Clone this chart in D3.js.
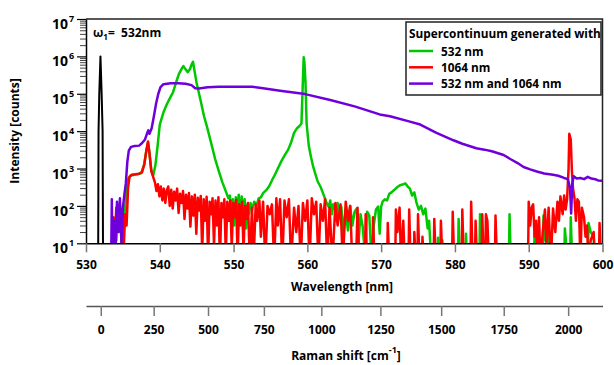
<!DOCTYPE html>
<html>
<head>
<meta charset="utf-8">
<script src="https://cdn.jsdelivr.net/npm/d3@7"></script>
<style>
  html, body { margin: 0; padding: 0; background: #fff; }
  svg { display: block; font-family: "Open Sans", sans-serif; font-weight: bold; }
</style>
</head>
<body>
<div id="chart"></div>
<script>
// pump line at 532 nm [nm, counts]
const pump = [[531.64,1],[531.7,1e4],[531.8,1e5],[531.96,1e6],[532.12,1e5],[532.25,1e4],[532.32,1]];

// supercontinuum pumped with 532 nm [nm, counts]
const sc532 = [[533.7,2],[533.9,45],[534.1,12],[534.3,70],[534.5,20],[534.7,55],[534.9,4],[535.1,35],[535.3,90],[535.5,250],[535.7,520],[536.0,640],[536.5,680],[537.0,700],[537.5,760],[537.9,1300],[538.2,3200],[538.4,5000],[538.6,2600],[538.85,900],[539.1,650],[539.4,1200],[539.7,4000],[540.0,15000],[540.5,32000],[541.0,55000],[541.5,85000],[541.8,110000],[542.2,200000],[542.6,340000],[543.0,480000],[543.2,550000],[543.5,450000],[543.8,380000],[544.1,460000],[544.3,600000],[544.5,720000],[544.7,420000],[545.0,190000],[545.5,70000],[546.0,25000],[546.4,13000],[547.0,4500],[547.5,1800],[548.0,850],[548.5,420],[549.0,230],[549.3,160],[549.5,190],[549.7,60],[549.9,150],[550.1,30],[550.3,170],[550.5,90],[550.7,200],[550.9,40],[551.1,180],[551.3,70],[551.5,150],[551.7,25],[551.9,110],[552.1,60],[552.3,120],[552.5,80],[552.8,130],[553.1,100],[553.4,160],[553.7,170],[554.0,220],[554.4,260],[554.8,330],[555.2,480],[555.6,680],[556.0,1000],[556.5,1600],[557.0,2400],[557.4,3200],[557.8,5000],[558.2,9000],[558.6,12000],[558.9,13500],[559.2,16000],[559.35,120000],[559.5,950000],[559.6,700000],[559.75,200000],[559.9,16000],[560.2,4000],[560.5,2000],[560.8,1100],[561.1,700],[561.4,450],[561.8,320],[562.2,200],[562.6,120],[562.9,95],[563.1,140],[563.3,60],[563.5,110],[563.7,105],[563.9,40],[564.1,120],[564.3,70],[564.6,95],[564.9,20],[565.2,80],[565.5,22],[565.8,100],[566.1,30],[566.4,70],[566.7,85],[566.9,8],[567.2,60],[567.5,28],[567.8,5],[568.1,70],[568.4,55],[568.7,3],[569.0,30],[569.3,80],[569.6,96],[569.8,18],[570.0,95],[570.2,130],[570.5,150],[570.8,140],[571.1,210],[571.4,230],[571.8,270],[572.2,320],[572.6,360],[573.0,380],[573.3,400],[573.6,330],[573.9,290],[574.2,190],[574.5,230],[574.8,120],[575.1,80],[575.4,100],[575.7,60],[576.0,85],[576.3,25],[576.5,40],[576.8,3],[577.6,2],[577.7,14],[577.9,2],[578.2,2],[578.3,12],[578.5,2],[580.4,2],[580.5,45],[580.7,2],[581.4,2],[581.5,18],[581.7,2],[583.3,2],[583.4,60],[583.6,2],[587.3,2],[587.4,60],[587.6,2],[590.7,2],[590.8,30],[591.0,2],[591.9,2],[592.0,55],[592.2,12],[592.6,20],[592.9,3],[594.8,2],[594.9,25],[595.1,8],[595.6,2],[595.7,50],[595.9,3],[598.0,2],[598.1,35],[598.4,20],[598.8,15],[599.0,2]];

// supercontinuum pumped with 1064 nm [nm, counts]
const sc1064 = [[533.5,1],[533.7,50],[533.9,10],[534.1,90],[534.3,25],[534.5,100],[534.7,30],[534.9,80],[535.1,6],[535.3,60],[535.5,30],[535.7,300],[535.9,600],[536.2,680],[536.7,700],[537.2,730],[537.6,800],[537.9,1300],[538.15,2800],[538.4,5300],[538.6,2600],[538.85,850],[539.1,600],[539.35,420],[539.55,250],[539.75,380],[539.95,180],[540.15,330],[540.35,140],[540.55,290],[540.75,120],[540.95,260],[541.15,330],[541.35,100],[541.55,270],[541.75,85],[541.95,240],[542.15,140],[542.35,290],[542.55,65],[542.75,210],[542.95,120],[543.15,250],[543.35,45],[543.55,200],[543.75,85],[543.95,220],[544.15,28],[544.35,180],[544.55,55],[544.75,200],[544.95,18],[545.15,165],[545.35,75],[545.55,185],[545.75,6],[545.95,150],[546.15,40],[546.35,175],[546.55,4],[546.75,130],[546.95,60],[547.15,160],[547.35,9],[547.55,140],[547.75,30],[547.95,170],[548.15,3],[548.35,120],[548.55,50],[548.75,150],[548.95,5],[549.15,130],[549.35,40],[549.55,140],[549.75,8],[549.95,120],[550.15,50],[550.35,145],[550.55,4],[550.75,110],[550.95,30],[551.15,130],[551.35,6],[551.55,100],[551.75,45],[551.95,120],[552.2,3],[552.5,90],[552.7,3],[553.0,110],[553.2,40],[553.5,140],[553.7,15],[554.0,130],[554.3,3],[554.6,100],[554.9,60],[555.2,110],[555.5,3],[555.8,160],[556.0,30],[556.3,150],[556.6,3],[556.9,140],[557.2,50],[557.5,150],[557.8,3],[558.2,90],[558.5,20],[558.8,100],[559.1,3],[559.4,120],[559.7,40],[560.0,140],[560.3,3],[560.6,160],[560.9,60],[561.2,130],[561.5,3],[561.8,110],[562.1,40],[562.4,150],[562.7,3],[563.0,90],[563.4,3],[563.8,120],[564.1,30],[564.5,110],[564.8,3],[565.2,130],[565.5,40],[565.8,100],[566.1,3],[566.6,3],[566.8,90],[567.0,3],[567.8,2],[567.9,60],[568.1,3],[568.8,2],[568.9,50],[569.1,3],[570.8,2],[570.9,35],[571.1,3],[571.9,2],[572.0,80],[572.2,20],[572.5,90],[572.7,3],[573.0,40],[573.2,3],[573.7,2],[573.8,80],[574.0,3],[574.4,2],[574.5,20],[574.7,3],[574.9,2],[575.0,60],[575.2,3],[575.5,2],[575.6,15],[575.8,3],[577.1,2],[577.2,45],[577.4,3],[578.0,2],[578.1,40],[578.3,3],[579.6,2],[579.7,70],[579.9,3],[580.9,2],[581.0,80],[581.2,3],[582.1,2],[582.2,130],[582.4,3],[582.7,2],[582.8,40],[583.0,3],[583.6,2],[583.7,60],[583.9,3],[584.1,2],[584.2,60],[584.4,40],[584.6,3],[585.4,2],[585.5,55],[585.7,3],[589.9,2],[590.0,130],[590.2,30],[590.4,90],[590.6,110],[590.8,15],[591.0,40],[591.2,3],[591.4,50],[591.6,3],[591.9,20],[592.2,80],[592.4,8],[592.7,90],[593.0,3],[593.3,85],[593.6,20],[593.9,130],[594.1,40],[594.3,180],[594.6,60],[594.8,190],[595.0,80],[595.2,150],[595.4,1000],[595.5,8500],[595.7,6000],[595.85,900],[596.0,300],[596.2,160],[596.4,40],[596.6,150],[596.8,130],[597.0,3],[597.2,90],[597.5,50],[597.7,15],[597.9,30],[598.1,3],[598.4,12],[598.8,20],[599.0,3],[599.5,2],[599.6,35],[599.8,3]];

// supercontinuum pumped with both [nm, counts]
const scBoth = [[533.4,2],[533.5,150],[533.6,3],[533.8,40],[534.0,5],[534.2,130],[534.4,20],[534.6,160],[534.8,10],[535.0,90],[535.2,200],[535.4,400],[535.6,1500],[535.8,3000],[536.1,3800],[536.6,4000],[537.2,4100],[537.6,4800],[538.0,6000],[538.3,9000],[538.45,10500],[538.6,8500],[538.9,12000],[539.2,25000],[539.5,55000],[539.8,100000],[540.1,150000],[540.5,180000],[541.5,190000],[542.5,190000],[543.5,185000],[544.3,170000],[544.8,140000],[545.3,138000],[546.5,150000],[548.0,155000],[550.0,155000],[552.5,155000],[554.0,140000],[556.3,120000],[559.7,98000],[563.1,68000],[566.4,46000],[569.8,28000],[571.2,25000],[573.9,18000],[575.3,15000],[577.5,9000],[579.8,5700],[581.0,4600],[582.9,3500],[584.0,3200],[585.0,2900],[586.6,2300],[587.5,1800],[588.5,1400],[589.3,1100],[590.2,950],[591.1,830],[592.1,740],[593.3,680],[594.0,640],[594.8,560],[595.3,520],[595.6,300],[595.75,63],[595.9,400],[596.1,620],[596.5,540],[597.0,560],[597.5,520],[598.0,600],[598.5,540],[599.0,520],[599.4,480],[600.0,470]];

const series = [
  { name: "532 nm", data: sc532, color: "#00c800" },
  { name: "1064 nm", data: sc1064, color: "#ff0000" },
  { name: "532 nm and 1064 nm", data: scBoth, color: "#6e00dc" }
];

const wlTicks = [530, 540, 550, 560, 570, 580, 590, 600];
const ramanTicks = [0, 250, 500, 750, 1000, 1250, 1500, 1750, 2000];
const decades = [1e1, 1e2, 1e3, 1e4, 1e5, 1e6, 1e7];
const pumpNm = 532;

const W = 614, H = 365;
const m = { l: 86, r: 11.5, t: 19, b: 121.7 };

const svg = d3.select("#chart").append("svg")
  .attr("width", W).attr("height", H)
  .attr("viewBox", [0, 0, W, H]);

const x = d3.scaleLinear().domain([530, 600]).range([m.l, W - m.r]);
const y = d3.scaleLog().domain([10, 1e7]).range([H - m.b, m.t]);

// raman shift (cm^-1) from the pump wavelength
const toShift = nm => 1e7 / pumpNm - 1e7 / nm;
const toNm = s => 1e7 / (1e7 / pumpNm - s);
const ramanDomain = [toShift(530), ...ramanTicks, toShift(600)];
const xr = d3.scaleLinear()
  .domain(ramanDomain)
  .range(ramanDomain.map((s, i) => i === 0 ? x(530) : i === ramanDomain.length - 1 ? x(600) : x(toNm(s))));

// clip
svg.append("clipPath").attr("id", "clip")
  .append("rect")
  .attr("x", m.l).attr("y", m.t)
  .attr("width", W - m.r - m.l).attr("height", H - m.b - m.t);

// frame top + right
svg.append("path")
  .attr("d", `M${m.l},${m.t}H${W - m.r}V${H - m.b}`)
  .attr("fill", "none").attr("stroke", "#222").attr("stroke-width", 1.5);

const line = d3.line()
  .x(d => x(d[0]))
  .y(d => y(Math.max(d[1], 0.5)));

const content = svg.append("g").attr("clip-path", "url(#clip)");

content.append("path")
  .attr("d", line(pump))
  .attr("fill", "none").attr("stroke", "#000").attr("stroke-width", 2)
  .attr("stroke-linejoin", "round");

content.selectAll("path.sc")
  .data(series)
  .join("path")
  .attr("class", "sc")
  .attr("d", d => line(d.data))
  .attr("fill", "none")
  .attr("stroke", d => d.color)
  .attr("stroke-width", 2.5)
  .attr("stroke-linejoin", "round");

// y axis: minor + major ticks
const minors = [];
decades.slice(0, -1).forEach(dv => { for (let k = 2; k <= 9; k++) minors.push(dv * k); });

svg.append("g")
  .attr("transform", `translate(${m.l},0)`)
  .call(d3.axisLeft(y).tickValues(minors).tickSize(6).tickFormat(""))
  .call(g => g.select(".domain").remove())
  .call(g => g.selectAll(".tick line").attr("stroke", "#444"));

svg.append("g")
  .attr("transform", `translate(${m.l},0)`)
  .call(d3.axisLeft(y).tickValues(decades).tickSize(9).tickSizeOuter(0).tickFormat(""))
  .call(g => g.select(".domain").attr("stroke", "#000").attr("stroke-width", 1.5))
  .call(g => g.selectAll(".tick line").attr("stroke", "#000").attr("stroke-width", 1.2));

const yLab = svg.append("g").selectAll("g")
  .data(decades)
  .join("g")
  .attr("transform", d => `translate(68,${y(d)})`);
yLab.append("text")
  .attr("text-anchor", "end").attr("y", 10)
  .attr("font-size", 14).attr("fill", "#000")
  .text("10");
yLab.append("text")
  .attr("x", 1).attr("y", 3)
  .attr("font-size", 9).attr("fill", "#000")
  .text(d => Math.round(Math.log10(d)));

// wavelength axis
svg.append("g")
  .attr("transform", `translate(0,${H - m.b})`)
  .call(d3.axisBottom(x).tickValues(wlTicks).tickSize(9).tickSizeOuter(0).tickPadding(8))
  .call(g => g.select(".domain").attr("stroke", "#000").attr("stroke-width", 1.5))
  .call(g => g.selectAll(".tick line").attr("stroke", "#777").attr("stroke-width", 1.5))
  .call(g => g.selectAll(".tick text").attr("font-size", 12).attr("font-family", "Open Sans").attr("font-weight", "bold").attr("fill", "#000"));

// raman axis
svg.append("g")
  .attr("transform", `translate(0,306)`)
  .call(d3.axisBottom(xr).tickValues(ramanTicks).tickFormat(d3.format("d")).tickSize(10).tickSizeOuter(0).tickPadding(9))
  .call(g => g.select(".domain").attr("stroke", "#555").attr("stroke-width", 1.5))
  .call(g => g.selectAll(".tick line").attr("stroke", "#777").attr("stroke-width", 1.5))
  .call(g => g.selectAll(".tick text").attr("font-size", 12).attr("font-family", "Open Sans").attr("font-weight", "bold").attr("fill", "#000"));

// axis titles
svg.append("text")
  .attr("x", 342).attr("y", 291)
  .attr("text-anchor", "middle").attr("font-size", 12)
  .text("Wavelength [nm]");

const rt = svg.append("text")
  .attr("x", 346).attr("y", 360)
  .attr("text-anchor", "middle").attr("font-size", 12);
rt.append("tspan").text("Raman shift [cm");
rt.append("tspan").attr("dy", -7).attr("font-size", 9).text("-1");
rt.append("tspan").attr("dy", 7).text("]");

svg.append("text")
  .attr("transform", `translate(19,131) rotate(-90)`)
  .attr("text-anchor", "middle").attr("font-size", 12)
  .text("Intensity [counts]");

// pump annotation
const an = svg.append("text").attr("x", 93).attr("y", 37).attr("font-size", 12);
an.append("tspan").text("ω");
an.append("tspan").attr("dy", 3).attr("font-size", 8).text("1");
an.append("tspan").attr("dy", -3).attr("xml:space", "preserve").text("=  532nm");

// legend
const lg = svg.append("g").attr("transform", "translate(406,22)");
lg.append("rect")
  .attr("width", 195).attr("height", 73)
  .attr("fill", "#fff").attr("stroke", "#222").attr("stroke-width", 1.5);
lg.append("text").attr("x", 3).attr("y", 16).attr("font-size", 11.8)
  .text("Supercontinuum generated with");
const li = lg.selectAll("g.item")
  .data(series)
  .join("g")
  .attr("class", "item")
  .attr("transform", (d, i) => `translate(0,${29 + i * 16.3})`);
li.append("line")
  .attr("x1", 3).attr("x2", 27)
  .attr("stroke", d => d.color).attr("stroke-width", 2.5);
li.append("text")
  .attr("x", 35).attr("y", 4.5).attr("font-size", 11.8)
  .text(d => d.name);
</script>
</body>
</html>
